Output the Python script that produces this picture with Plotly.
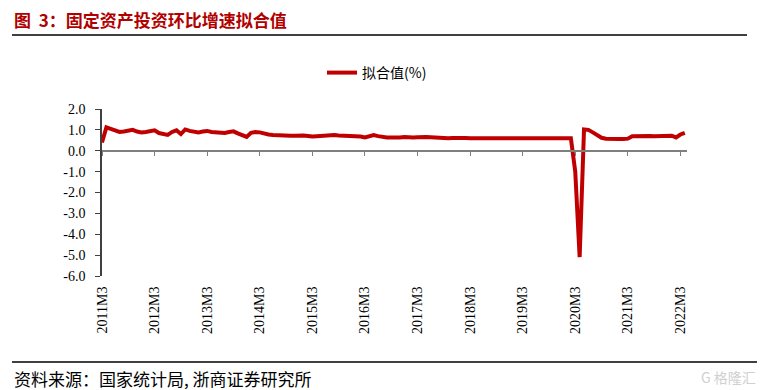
import plotly.graph_objects as go

# ---- data ----
start_year, start_month = 2011, 3
values = [
    0.40, 1.12, 1.05, 0.95, 0.90, 0.92, 0.95, 1.00, 0.92, 0.88,
    0.90, 0.95, 0.98, 0.85, 0.78, 0.76, 0.90, 0.98, 0.80, 1.02,
    0.95, 0.90, 0.88, 0.92, 0.95, 0.90, 0.88, 0.83, 0.85, 0.90,
    0.93, 0.83, 0.75, 0.66, 0.86, 0.90, 0.88, 0.82, 0.78, 0.76,
    0.74, 0.76, 0.73, 0.72, 0.72, 0.74, 0.73, 0.71, 0.68, 0.70,
    0.72, 0.74, 0.73, 0.75, 0.73, 0.72, 0.73, 0.72, 0.70, 0.68,
    0.64, 0.72, 0.75, 0.70, 0.66, 0.64, 0.64, 0.62, 0.64, 0.66,
    0.64, 0.64, 0.65, 0.67, 0.66, 0.65, 0.63, 0.61, 0.60, 0.60,
    0.61, 0.62, 0.62, 0.61, 0.60, 0.60, 0.60, 0.61, 0.61, 0.60,
    0.60, 0.60, 0.60, 0.60, 0.61, 0.61, 0.60, 0.60, 0.60, 0.60,
    0.60, 0.60, 0.60, 0.60, 0.60, 0.60, 0.60, 0.60, -1.00, -5.10,
    1.02, 1.00, 0.88, 0.75, 0.62, 0.58, 0.56, 0.55, 0.56, 0.56,
    0.58, 0.70, 0.71, 0.70, 0.70, 0.71, 0.70, 0.71, 0.71, 0.72,
    0.72, 0.64, 0.78, 0.86,
]
categories = []
y, m = start_year, start_month
for _ in values:
    categories.append(f"{y}M{m}")
    m += 1
    if m > 12:
        m = 1
        y += 1
tick_labels = ["2011M3", "2012M3", "2013M3", "2014M3", "2015M3", "2016M3",
               "2017M3", "2018M3", "2019M3", "2020M3", "2021M3", "2022M3"]
y_ticks = [2, 1, 0, -1, -2, -3, -4, -5, -6]
series_name = "拟合值(%)"
title_text = "图 3：固定资产投资环比增速拟合值"
source_text = "资料来源：国家统计局, 浙商证券研究所"

idx = list(range(len(values)))
tick_idx = [categories.index(t) for t in tick_labels]

RED = "#C00000"
W, H = 770, 390
ML, MR, MT, MB = 102, 83, 109, 114
PW, PH = W - ML - MR, H - MT - MB


def px(x):
    return (x - ML) / PW


def py(y):
    return (H - MB - y) / PH


fig = go.Figure()
fig.add_trace(go.Scatter(
    x=idx, y=values, mode="lines", name=series_name,
    line=dict(color=RED, width=4), hoverinfo="skip",
))
# invisible trace to carry the zero-line axis
fig.add_trace(go.Scatter(x=idx, y=values, xaxis="x2", mode="lines",
                         line=dict(width=0), showlegend=False, hoverinfo="skip", opacity=0))

serif = "Liberation Serif, Times New Roman, serif"
fig.update_layout(
    width=W, height=H,
    margin=dict(l=ML, r=MR, t=MT, b=MB, autoexpand=False),
    paper_bgcolor="white", plot_bgcolor="white",
    showlegend=True,
    legend=dict(orientation="h", x=px(322), xanchor="left", y=py(73), yanchor="middle",
                font=dict(family="Noto Sans CJK SC", size=14, color="#000"),
                bgcolor="rgba(0,0,0,0)", itemwidth=30),
    xaxis=dict(range=[0, 133.5], tickmode="array", tickvals=tick_idx, ticktext=tick_labels,
               tickangle=-90, showline=False, ticks="outside", ticklen=4, tickcolor="rgba(0,0,0,0)",
               showgrid=False, zeroline=False, automargin=False,
               tickfont=dict(family=serif, size=14, color="#000")),
    xaxis2=dict(range=[0, 133.5], overlaying="x", anchor="free", position=0.75,
                tickmode="array", tickvals=tick_idx, showticklabels=False,
                ticks="outside", ticklen=4, tickcolor="#7f7f7f", tickwidth=1,
                showline=True, linecolor="#7f7f7f", linewidth=1.5, showgrid=False, zeroline=False),
    yaxis=dict(range=[-6, 2], tickmode="array", tickvals=y_ticks,
               ticktext=[f"{v:.1f}" for v in y_ticks],
               showline=True, linecolor="#404040", linewidth=1.5,
               ticks="outside", ticklen=5, tickcolor="#404040", ticklabelstandoff=7,
               showgrid=False, zeroline=False, automargin=False,
               tickfont=dict(family=serif, size=14, color="#000")),
    font=dict(family="Noto Sans CJK SC"),
)

fig.add_annotation(text=f"<b>{title_text.replace(' ', '&nbsp;&nbsp;')}</b>", xref="paper", yref="paper",
                   x=px(12), y=py(20), xanchor="left", yanchor="middle", showarrow=False,
                   font=dict(family="Noto Sans CJK SC", size=17, color="#B00000"))
fig.add_annotation(text=source_text, xref="paper", yref="paper",
                   x=px(12), y=py(378), xanchor="left", yanchor="middle", showarrow=False,
                   font=dict(family="Noto Sans CJK SC", size=17, color="#000"))
fig.add_annotation(text="G 格隆汇", xref="paper", yref="paper",
                   x=px(758), y=py(377), xanchor="right", yanchor="middle", showarrow=False,
                   font=dict(family="Noto Sans CJK SC", size=14, color="#d0d0d0"))

fig.add_shape(type="line", xref="paper", yref="paper", x0=px(12), x1=px(747),
              y0=py(35), y1=py(35), line=dict(color="#000", width=1.5))
fig.add_shape(type="line", xref="paper", yref="paper", x0=px(12), x1=px(757),
              y0=py(362), y1=py(362), line=dict(color="#000", width=1.5))

fig.write_html("out.html", config={"displayModeBar": False},
               post_script="document.body.style.margin='0';document.body.style.overflow='hidden';")
